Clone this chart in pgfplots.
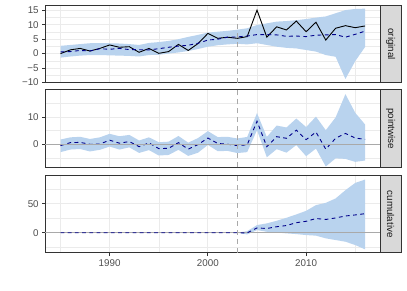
\documentclass[border=0pt]{standalone}
\usepackage{fontspec}
\setmainfont{Liberation Sans}
\usepackage{pgfplots}
\pgfplotsset{compat=1.18}
\usepackage{pgfplotstable}
\usepgfplotslibrary{fillbetween}
\definecolor{gray20}{HTML}{333333}
\definecolor{gray30}{HTML}{4D4D4D}
\definecolor{gray10}{HTML}{1A1A1A}
\definecolor{gray85}{HTML}{D9D9D9}
\definecolor{gridc}{HTML}{EBEBEB}
\definecolor{band}{HTML}{B9D3EE}
\definecolor{dblue}{HTML}{00008B}
\definecolor{dgrey}{HTML}{A9A9A9}

\pgfplotstableread{
year y pred lo hi pw pwlo pwhi cum cumlo cumhi
1985 0.0 0.6 -1.4 2.7 -0.5 -2.9 1.75 0 0 0
1986 1.3 0.7 -1.0 3.0 0.6 -1.95 2.55 0 0 0
1987 1.8 1.1 -0.7 3.3 0.7 -1.75 2.75 0 0 0
1988 0.9 0.9 -0.5 3.6 0.0 -2.65 1.95 0 0 0
1989 1.8 1.7 -0.5 3.6 0.1 -2.05 2.55 0 0 0
1990 3.0 1.5 -0.6 3.6 1.5 -0.85 3.85 0 0 0
1991 2.2 1.8 -0.7 3.5 0.4 -1.95 2.95 0 0 0
1992 2.4 1.4 -0.8 3.3 1.0 -1.15 3.45 0 0 0
1993 0.45 1.35 -1.0 3.0 -0.9 -3.2 1.4 0 0 0
1994 1.8 1.3 -0.5 3.7 0.5 -2.15 2.55 0 0 0
1995 0.1 1.7 -0.4 4.0 -1.6 -4.15 0.75 0 0 0
1996 0.7 2.2 0.0 4.4 -1.5 -3.95 0.95 0 0 0
1997 3.2 2.6 0.4 5.0 0.6 -2.05 3.05 0 0 0
1998 1.1 2.9 0.9 5.8 -1.8 -4.3 0.6 0 0 0
1999 3.5 3.6 1.6 6.5 -0.1 -3.1 2.3 0 0 0
2000 7.0 4.7 2.4 7.3 2.3 -0.25 4.85 0 0 0
2001 5.3 5.0 2.9 7.6 0.3 -2.55 2.65 0 0 0
2002 5.7 5.7 3.2 7.9 0.0 -2.45 2.75 0 0 0
2003 5.3 5.8 3.4 8.3 -0.5 -3.25 2.15 0 0 0
2004 5.9 6.1 3.2 8.8 -0.2 -2.9 2.7 -0.2 -2.9 2.7
2005 15.1 6.6 3.6 9.9 8.5 5.2 11.5 8.3 4.6 13.3
2006 5.7 6.6 3.0 10.5 -0.9 -4.8 2.7 7.4 1.7 16.2
2007 9.3 6.5 2.4 11.1 2.8 -1.8 6.9 10.4 0.5 20.7
2008 8.2 6.0 2.0 11.3 2.2 -3.1 6.2 12.5 -1.1 25.9
2009 11.3 6.1 1.8 11.6 5.2 -0.3 9.5 17.4 -2.3 31.7
2010 7.6 5.9 1.25 12.0 1.7 -4.4 6.35 19.8 -4.0 37.9
2011 10.9 6.4 0.7 12.5 4.5 -1.6 10.2 24.6 -5.0 47.8
2012 4.7 6.5 -0.5 12.9 -1.8 -8.2 5.2 23.0 -9.7 51.7
2013 8.8 6.6 -1.1 14.0 2.2 -5.2 9.9 25.6 -12.6 59.3
2014 9.7 5.7 -8.8 15.1 4.0 -5.4 18.5 29.0 -15.5 73.6
2015 9.0 6.7 -2.6 15.5 2.3 -6.5 11.6 30.8 -21.2 86.2
2016 9.6 7.8 2.3 15.6 1.8 -6.0 7.3 33.0 -28.7 92.0
}\data

\pgfplotsset{
  panel/.style={
    width=335pt, height=77.5pt, scale only axis,
    xmin=1983.45, xmax=2017.55,
    clip=false,
    axis line style={gray20, line width=1.0pt},
    grid=both,
    major grid style={gridc, line width=1.0pt},
    minor grid style={gridc, line width=0.5pt},
    xtick={1990,2000,2010},
    minor xtick={1985,1995,2005,2015},
    tick style={gray20, line width=1.0pt},
    tick align=outside,
    major tick length=3.1pt,
    minor tick length=0pt,
    xtick pos=bottom, ytick pos=left,
    ticklabel style={font=\fontsize{9.8}{10}\selectfont, text=gray30},
  },
  strip/.style={
    after end axis/.append code={
      \draw[gray20, fill=gray85, line width=1.0pt] (rel axis cs:1,0) rectangle ([xshift=20.7pt]rel axis cs:1,1);
      \node[rotate=-90, text=gray10, font=\fontsize{9.8}{10}\selectfont, inner sep=0pt] at ([xshift=10.35pt]rel axis cs:1,0.5) {#1};
    }
  },
  vl/.style={dgrey, line width=0.9pt, dash pattern=on 5pt off 4pt},
  predl/.style={dblue, line width=0.9pt, dash pattern=on 3.8pt off 3.4pt},
}

\begin{document}
\begin{tikzpicture}

% Panel 1: original
\begin{axis}[panel, strip=original,
  at={(45.3pt,208pt)}, anchor=south west,
  ymin=-10.2, ymax=16.7,
  ytick={-10,-5,0,5,10,15},
  yticklabels={−10,−5,0,5,10,15},
  minor ytick={-7.5,-2.5,2.5,7.5,12.5},
  xticklabels={}, xtick style={draw=none}]
\addplot[name path=u1, draw=none] table[x=year, y=hi] {\data};
\addplot[name path=l1, draw=none] table[x=year, y=lo] {\data};
\addplot[band, draw=none] fill between[of=u1 and l1];
\addplot[black, line width=0.9pt] table[x=year, y=y] {\data};
\addplot[predl] table[x=year, y=pred] {\data};
\addplot[vl] coordinates {(2003,-10.2) (2003,16.7)};
\end{axis}

% Panel 2: pointwise
\begin{axis}[panel, strip=pointwise,
  at={(45.3pt,123.7pt)}, anchor=south west,
  ymin=-8.5, ymax=20.1,
  ytick={0,10},
  yticklabels={0,10},
  minor ytick={-5,5,15},
  xticklabels={}, xtick style={draw=none}]
\addplot[name path=u2, draw=none] table[x=year, y=pwhi] {\data};
\addplot[name path=l2, draw=none] table[x=year, y=pwlo] {\data};
\addplot[band, draw=none] fill between[of=u2 and l2];
\addplot[predl] table[x=year, y=pw] {\data};
\addplot[dgrey, line width=0.9pt] coordinates {(1983.45,0) (2017.55,0)};
\addplot[vl] coordinates {(2003,-8.5) (2003,20.1)};
\end{axis}

% Panel 3: cumulative
\begin{axis}[panel, strip=cumulative,
  at={(45.3pt,38pt)}, anchor=south west,
  ymin=-35, ymax=99,
  ytick={0,50},
  yticklabels={0,50},
  minor ytick={-25,25,75},
  xticklabels={1990,2000,2010}]
\addplot[name path=u3, draw=none] table[x=year, y=cumhi] {\data};
\addplot[name path=l3, draw=none] table[x=year, y=cumlo] {\data};
\addplot[band, draw=none] fill between[of=u3 and l3];
\addplot[dgrey, line width=0.9pt] coordinates {(1983.45,0) (2017.55,0)};
\addplot[predl] table[x=year, y=cum] {\data};
\addplot[vl] coordinates {(2003,-35) (2003,99)};
\end{axis}
\path (0,0) rectangle (407pt,291pt);
\end{tikzpicture}
\end{document}
